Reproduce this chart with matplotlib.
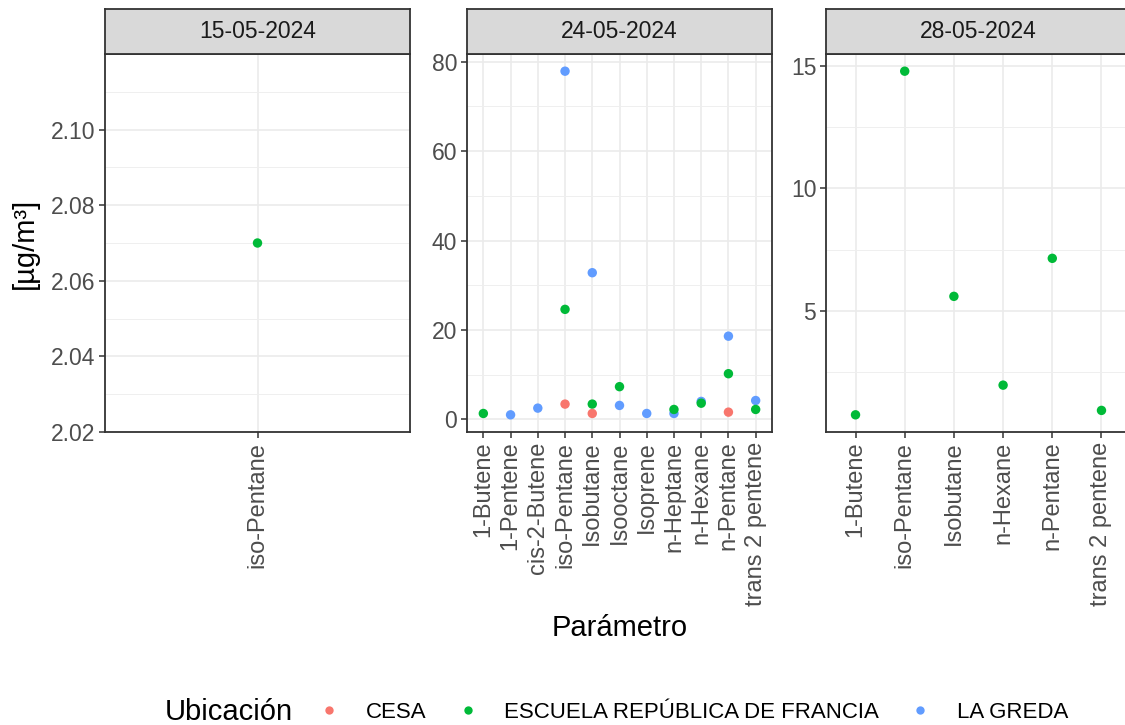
import numpy as np
import matplotlib
matplotlib.use("Agg")
import matplotlib.pyplot as plt
from matplotlib.lines import Line2D
from matplotlib.ticker import MultipleLocator, FixedLocator

plt.rcParams['font.family'] = ['Liberation Sans', 'DejaVu Sans']

nan = np.nan
# ---- data ----
dates = ["15-05-2024", "24-05-2024", "28-05-2024"]

cats_1 = ["iso-Pentane"]
cesa_1 = [nan]
escuela_1 = [2.07]
greda_1 = [nan]

cats_2 = ["1-Butene", "1-Pentene", "cis-2-Butene", "iso-Pentane", "Isobutane",
          "Isooctane", "Isoprene", "n-Heptane", "n-Hexane", "n-Pentane", "trans 2 pentene"]
cesa_2 = [nan, nan, nan, 3.4, 1.3, nan, nan, nan, nan, 1.6, nan]
escuela_2 = [1.3, nan, nan, 24.6, 3.4, 7.3, nan, 2.2, 3.6, 10.2, 2.2]
greda_2 = [nan, 1.0, 2.5, 77.9, 32.8, 3.1, 1.3, 1.3, 4.0, 18.6, 4.2]

cats_3 = ["1-Butene", "iso-Pentane", "Isobutane", "n-Hexane", "n-Pentane", "trans 2 pentene"]
cesa_3 = [nan] * 6
escuela_3 = [0.77, 14.78, 5.60, 1.98, 7.15, 0.95]
greda_3 = [nan] * 6

stations = ["CESA", "ESCUELA REPÚBLICA DE FRANCIA", "LA GREDA"]
colors = {"CESA": "#F8766D", "ESCUELA REPÚBLICA DE FRANCIA": "#00BA38", "LA GREDA": "#619CFF"}

panels = [
    (cats_1, {"CESA": cesa_1, "ESCUELA REPÚBLICA DE FRANCIA": escuela_1, "LA GREDA": greda_1}),
    (cats_2, {"CESA": cesa_2, "ESCUELA REPÚBLICA DE FRANCIA": escuela_2, "LA GREDA": greda_2}),
    (cats_3, {"CESA": cesa_3, "ESCUELA REPÚBLICA DE FRANCIA": escuela_3, "LA GREDA": greda_3}),
]

W, H = 1125, 725
fig = plt.figure(figsize=(W / 100, H / 100), dpi=100)

lefts = [105, 467, 826]
pw = 305
ptop, pbot = 54, 432
strip_h = 45

grid_major = "#EBEBEB"
grid_minor = "#EFEFEF"
border = "#333333"
tick_col = "#4D4D4D"
fs_tick = 16.5
fs_xtick = 17
fs_leg = 16
fs_title = 21

ylocs = [
    (FixedLocator([2.02, 2.04, 2.06, 2.08, 2.10]), FixedLocator([2.03, 2.05, 2.07, 2.09, 2.11])),
    (MultipleLocator(20), MultipleLocator(10)),
    (MultipleLocator(5), MultipleLocator(2.5)),
]

draw_order = ["LA GREDA", "ESCUELA REPÚBLICA DE FRANCIA", "CESA"]

for i, (cats, vals) in enumerate(panels):
    l = lefts[i]
    ax = fig.add_axes([l / W, 1 - pbot / H, pw / W, (pbot - ptop) / H])
    x = np.arange(len(cats))
    allv = np.concatenate([np.asarray(vals[s], float) for s in stations])
    allv = allv[~np.isnan(allv)]
    lo, hi = allv.min(), allv.max()
    if hi - lo == 0:
        ax.set_ylim(lo - 0.05, hi + 0.05)
    else:
        pad = 0.05 * (hi - lo)
        ax.set_ylim(lo - pad, hi + pad)
    ax.set_xlim(-0.6, len(cats) - 1 + 0.6)
    ax.set_xticks(x)
    ax.set_xticklabels(cats, rotation=90, ha="center", va="top", fontsize=fs_xtick)
    ax.yaxis.set_major_locator(ylocs[i][0])
    ax.yaxis.set_minor_locator(ylocs[i][1])
    if i == 0:
        ax.set_yticklabels(["2.02", "2.04", "2.06", "2.08", "2.10"])
    ax.grid(True, which="major", color=grid_major, linewidth=1.2, zorder=0)
    ax.grid(True, which="minor", axis="y", color=grid_minor, linewidth=0.7, zorder=0)
    ax.set_axisbelow(True)
    for sp in ax.spines.values():
        sp.set_color(border)
        sp.set_linewidth(1.3)
    ax.tick_params(axis="both", which="major", length=4, width=1.1, color=border,
                   labelcolor=tick_col, pad=3)
    ax.tick_params(axis="y", which="major", labelsize=fs_tick)
    ax.tick_params(axis="y", which="minor", length=0)
    for s in draw_order:
        v = np.asarray(vals[s], float)
        m = ~np.isnan(v)
        ax.scatter(x[m], v[m], s=46, color=colors[s], edgecolors="none", zorder=3)
    # strip
    sax = fig.add_axes([l / W, 1 - ptop / H, pw / W, strip_h / H])
    sax.set_facecolor("#D9D9D9")
    sax.set_xticks([])
    sax.set_yticks([])
    for sp in sax.spines.values():
        sp.set_color(border)
        sp.set_linewidth(1.3)
    sax.text(0.5, 0.5, dates[i], transform=sax.transAxes, ha="center", va="center",
             fontsize=fs_tick, color="#1A1A1A")

fig.text(25 / W, 1 - 243 / H, "[µg/m³]", rotation=90, ha="center", va="center",
         fontsize=fs_title, color="black")
fig.text((lefts[1] + pw / 2) / W, 1 - 628 / H, "Parámetro", ha="center", va="center",
         fontsize=fs_title, color="black")

fig.text(165 / W, 1 - 712 / H, "Ubicación", ha="left", va="center", fontsize=fs_title)
handles = [Line2D([], [], marker="o", linestyle="none", markersize=6,
                  markerfacecolor=colors[s], markeredgecolor="none", label=s) for s in stations]
fig.legend(handles=handles, ncol=3, loc="center left", bbox_to_anchor=(316 / W, 1 - 712 / H),
           frameon=False, fontsize=fs_leg, handletextpad=1.05, columnspacing=1.25,
           handlelength=1.2, borderaxespad=0, borderpad=0)

fig.savefig("out.png", dpi=100, facecolor="white")
